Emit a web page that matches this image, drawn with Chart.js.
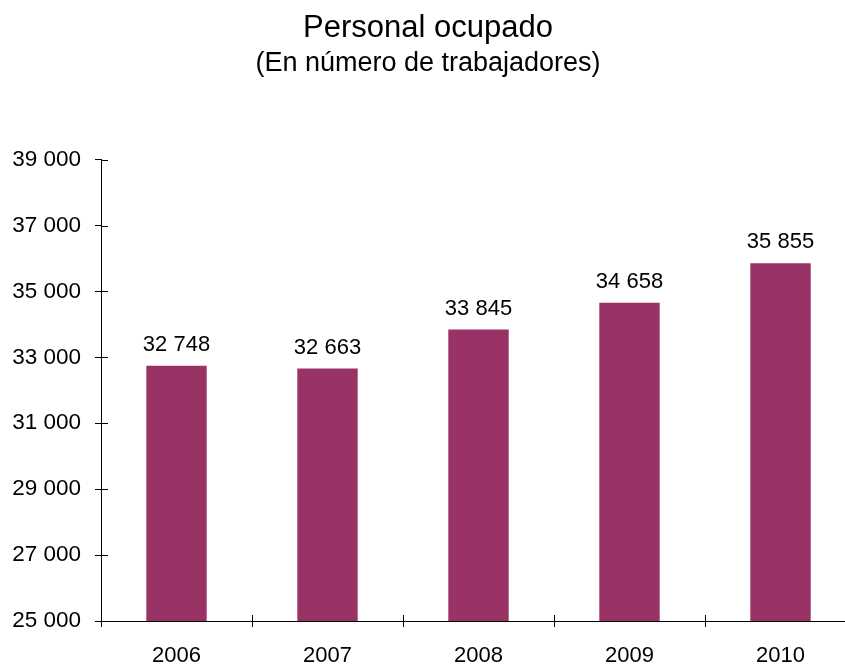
<!DOCTYPE html>
<html>
<head>
<meta charset="utf-8">
<script src="https://cdn.jsdelivr.net/npm/chart.js@4"></script>
<style>
  html, body { margin: 0; padding: 0; background: #fff; overflow: hidden; }
  #grafico { display: block; }
</style>
</head>
<body>
<canvas id="grafico" width="864" height="665"></canvas>
<script>
// Datos
var anios = ["2006", "2007", "2008", "2009", "2010"];
var personal = [32748, 32663, 33845, 34658, 35855];
var ejeMin = 25000;
var ejeMax = 39000;
var ejePaso = 2000;

var fuente = "'Liberation Sans', Arial, sans-serif";

function formato(n) {
    return String(n).replace(/\B(?=(\d{3})+(?!\d))/g, " ");
}

// etiquetas encima de las barras + marcas interiores de los ejes
var extras = {
    id: "extras",
    afterDatasetsDraw: function (chart) {
        var ctx = chart.ctx;
        var meta = chart.getDatasetMeta(0);
        ctx.save();
        ctx.fillStyle = "#000";
        ctx.font = "22px " + fuente;
        ctx.textAlign = "center";
        ctx.textBaseline = "middle";
        meta.data.forEach(function (bar, i) {
            ctx.fillText(formato(personal[i]), bar.x, bar.y - 21);
        });

        var y = chart.scales.y;
        var x = chart.scales.x;
        ctx.strokeStyle = "#000";
        ctx.lineWidth = 1;
        ctx.beginPath();
        y.ticks.forEach(function (t) {
            var py = Math.round(y.getPixelForValue(t.value)) + 0.5;
            ctx.moveTo(x.left, py);
            ctx.lineTo(x.left + 7, py);
        });
        for (var i = 1; i < anios.length; i++) {
            var px = Math.round((x.getPixelForValue(i - 1) + x.getPixelForValue(i)) / 2) + 0.5;
            ctx.moveTo(px, y.bottom);
            ctx.lineTo(px, y.bottom - 6);
        }
        ctx.stroke();
        ctx.restore();
    }
};

var grafico = document.getElementById("grafico").getContext("2d");

new Chart(grafico, {
    type: "bar",
    data: {
        labels: anios,
        datasets: [{
            label: "Personal ocupado",
            data: personal,
            backgroundColor: "#993366",
            barPercentage: 0.4,
            categoryPercentage: 1
        }]
    },
    options: {
        responsive: false,
        animation: false,
        layout: { padding: { left: 0, right: 8, top: 0, bottom: 0 } },
        plugins: {
            legend: { display: false },
            tooltip: { enabled: false },
            title: {
                display: true,
                text: "Personal ocupado",
                color: "#000",
                font: { family: fuente, size: 31, weight: "normal" },
                padding: { top: 10, bottom: 0 }
            },
            subtitle: {
                display: true,
                text: "(En número de trabajadores)",
                color: "#000",
                font: { family: fuente, size: 27, weight: "normal" },
                padding: { top: 0, bottom: 80 }
            }
        },
        scales: {
            x: {
                offset: true,
                afterFit: function (scale) { scale.height = 44; },
                grid: {
                    offset: true,
                    drawOnChartArea: false,
                    color: "#000",
                    tickLength: 6
                },
                border: { color: "#000", width: 1 },
                ticks: {
                    color: "#000",
                    padding: 16,
                    font: { family: fuente, size: 22 }
                }
            },
            y: {
                min: ejeMin,
                max: ejeMax,
                afterFit: function (scale) { scale.width = 101; },
                grid: {
                    drawOnChartArea: false,
                    color: "#000",
                    tickLength: 6
                },
                border: { color: "#000", width: 1 },
                ticks: {
                    stepSize: ejePaso,
                    color: "#000",
                    padding: 14,
                    font: { family: fuente, size: 22.5 },
                    callback: function (v) { return formato(v); }
                }
            }
        }
    },
    plugins: [extras]
});
</script>
</body>
</html>
